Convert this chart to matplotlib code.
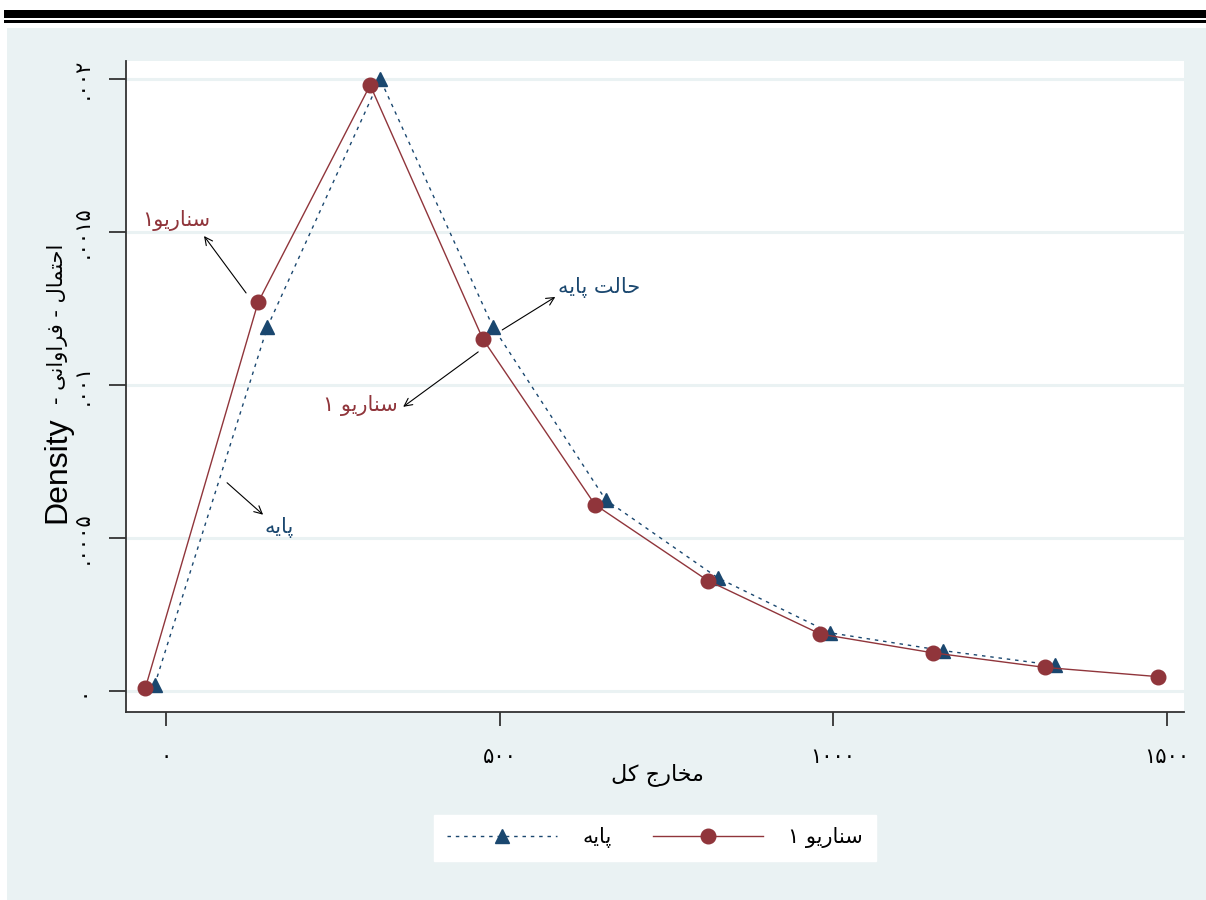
import matplotlib
matplotlib.use("Agg")
import matplotlib.pyplot as plt
from matplotlib.patches import Rectangle

# ---------------- data ----------------
base_x = [-17, 152, 321, 490, 659, 827, 996, 1165, 1333]
base_y = [0.00002, 0.00119, 0.00200, 0.00119, 0.000625, 0.00037, 0.00019, 0.000132, 0.000084]
scen_x = [-31, 138, 306, 475, 643, 812, 981, 1149, 1318, 1487]
scen_y = [0.00001, 0.00127, 0.00198, 0.00115, 0.000609, 0.000361, 0.000186, 0.000125, 0.000077, 0.000047]

base_label = "پایه"
scen_label = "سناریو ۱"
x_title = "مخارج کل"
y_title_en = "Density"
y_title_fa = "احتمال - فراوانی"
x_ticks = [0, 500, 1000, 1500]
x_ticklabels = ["۰", "۵۰۰", "۱۰۰۰", "۱۵۰۰"]
y_ticks = [0, 0.0005, 0.001, 0.0015, 0.002]
y_ticklabels = ["۰", ".۰۰۰۵", ".۰۰۱", ".۰۰۱۵", ".۰۰۲"]

ann_scen_top = "سناریو۱"
ann_base_low = "پایه"
ann_scen_mid = "سناریو ۱"
ann_base_mid = "حالت پایه"

# ---------------- minimal Persian shaping ----------------
_FORMS = {
    '\u0627': ('\uFE8D', '\uFE8E', None, None),
    '\u067E': ('\uFB56', '\uFB57', '\uFB58', '\uFB59'),
    '\u062A': ('\uFE95', '\uFE96', '\uFE97', '\uFE98'),
    '\u062C': ('\uFE9D', '\uFE9E', '\uFE9F', '\uFEA0'),
    '\u062D': ('\uFEA1', '\uFEA2', '\uFEA3', '\uFEA4'),
    '\u062E': ('\uFEA5', '\uFEA6', '\uFEA7', '\uFEA8'),
    '\u0631': ('\uFEAD', '\uFEAE', None, None),
    '\u0633': ('\uFEB1', '\uFEB2', '\uFEB3', '\uFEB4'),
    '\u0641': ('\uFED1', '\uFED2', '\uFED3', '\uFED4'),
    '\u06A9': ('\uFB8E', '\uFB8F', '\uFB90', '\uFB91'),
    '\u0644': ('\uFEDD', '\uFEDE', '\uFEDF', '\uFEE0'),
    '\u0645': ('\uFEE1', '\uFEE2', '\uFEE3', '\uFEE4'),
    '\u0646': ('\uFEE5', '\uFEE6', '\uFEE7', '\uFEE8'),
    '\u0647': ('\uFEE9', '\uFEEA', '\uFEEB', '\uFEEC'),
    '\u0648': ('\uFEED', '\uFEEE', None, None),
    '\u06CC': ('\uFBFC', '\uFBFD', '\uFBFE', '\uFBFF'),
}


def fa(s):
    out = []
    n = len(s)
    for i, c in enumerate(s):
        f = _FORMS.get(c)
        if f is None:
            out.append(c)
            continue
        prev = s[i - 1] if i > 0 else ''
        nxt = s[i + 1] if i < n - 1 else ''
        jp = prev in _FORMS and _FORMS[prev][2] is not None
        jn = f[2] is not None and nxt in _FORMS
        if jp and jn:
            g = f[3]
        elif jp:
            g = f[1]
        elif jn:
            g = f[2]
        else:
            g = f[0]
        out.append(g)
    return ''.join(reversed(out))


# ---------------- style ----------------
RED = '#90353B'
BLUE = '#1A476F'
BG = '#EAF2F3'
FA_FONT = ['DejaVu Sans']

W, H = 1206, 900
fig = plt.figure(figsize=(W / 100, H / 100), dpi=100)
fig.patch.set_facecolor('white')

# background panel and top rules
fig.add_artist(Rectangle((7 / W, 0), 1, 1 - 28 / H, transform=fig.transFigure,
                         facecolor=BG, edgecolor='none', zorder=-10))
fig.add_artist(Rectangle((4 / W, 1 - 18 / H), 1, 8 / H, transform=fig.transFigure,
                         facecolor='black', edgecolor='none', zorder=5))
fig.add_artist(Rectangle((4 / W, 1 - 23 / H), 1, 2.6 / H, transform=fig.transFigure,
                         facecolor='black', edgecolor='none', zorder=5))

ax = fig.add_axes([126 / W, 1 - 712 / H, (1184 - 126) / W, (712 - 61) / H])
ax.set_facecolor('white')

line_base, = ax.plot(base_x, base_y, color=BLUE, lw=1.0, linestyle=(0, (2.5, 3.5)),
                     marker='^', markersize=10.5, markerfacecolor=BLUE,
                     markeredgecolor=BLUE, zorder=3)
line_scen, = ax.plot(scen_x, scen_y, color=RED, lw=1.0, linestyle='-',
                     marker='o', markersize=10.5, markerfacecolor=RED,
                     markeredgecolor=RED, zorder=4)

ax.set_xlim(-60, 1526)
ax.set_ylim(-0.0000686, 0.0020588)

ax.set_xticks(x_ticks)
ax.set_xticklabels(x_ticklabels, family=FA_FONT, fontsize=15)
ax.set_yticks(y_ticks)
ax.set_yticklabels(y_ticklabels, family=FA_FONT, fontsize=15, rotation=90, va='center')
ax.tick_params(axis='x', length=10, width=1.3, pad=15, color='#333333')
ax.tick_params(axis='y', length=12, width=1.3, pad=12, color='#333333')

ax.yaxis.grid(True, color=BG, lw=2.2)
ax.set_axisbelow(True)
for side in ('top', 'right'):
    ax.spines[side].set_visible(False)
for side in ('left', 'bottom'):
    ax.spines[side].set_color('#333333')
    ax.spines[side].set_linewidth(1.3)

# axis titles
fig.text(657 / W, 1 - 775 / H, fa(x_title), family=FA_FONT, fontsize=16,
         ha='center', va='center')
fig.text(57 / W, 1 - 470 / H, y_title_en, family=['Liberation Sans'], fontsize=23,
         rotation=90, ha='center', va='center')
fig.text(57 / W, 1 - 324 / H, '- ' + fa(y_title_fa), family=FA_FONT, fontsize=15,
         rotation=90, ha='center', va='center')


# annotations (pixel helpers -> data)
def dx(px):
    return (px - 166) / (1000 / 1500)


def dy(py):
    return (691.5 - py) / 306350


arrow = dict(arrowstyle='->', color='black', lw=0.8, shrinkA=0, shrinkB=0,
             mutation_scale=14)
ax.annotate('', xy=(dx(204), dy(236)), xytext=(dx(246), dy(293)), arrowprops=arrow)
ax.annotate('', xy=(dx(263), dy(515)), xytext=(dx(227), dy(483)), arrowprops=arrow)
ax.annotate('', xy=(dx(403), dy(407)), xytext=(dx(478), dy(352)), arrowprops=arrow)
ax.annotate('', xy=(dx(555), dy(297)), xytext=(dx(502), dy(330)), arrowprops=arrow)

ax.text(dx(176), dy(220), fa(ann_scen_top), color=RED, family=FA_FONT, fontsize=15,
        ha='center', va='center')
ax.text(dx(264), dy(528), fa(ann_base_low), color=BLUE, family=FA_FONT, fontsize=15,
        ha='left', va='center')
ax.text(dx(398), dy(406), fa(ann_scen_mid), color=RED, family=FA_FONT, fontsize=15,
        ha='right', va='center')
ax.text(dx(558), dy(288), fa(ann_base_mid), color=BLUE, family=FA_FONT, fontsize=15,
        ha='left', va='center')

leg = ax.legend([line_base, line_scen], [fa(base_label), fa(scen_label)],
                loc='center', bbox_to_anchor=(655 / W, 1 - 838 / H),
                bbox_transform=fig.transFigure, ncol=2, handlelength=5.3,
                handletextpad=1.2, columnspacing=2.0, numpoints=1,
                prop={'family': FA_FONT, 'size': 15}, frameon=True, fancybox=False,
                edgecolor='white', facecolor='white', framealpha=1, borderpad=0.6)

fig.savefig('out.png', dpi=100, facecolor=fig.get_facecolor())
